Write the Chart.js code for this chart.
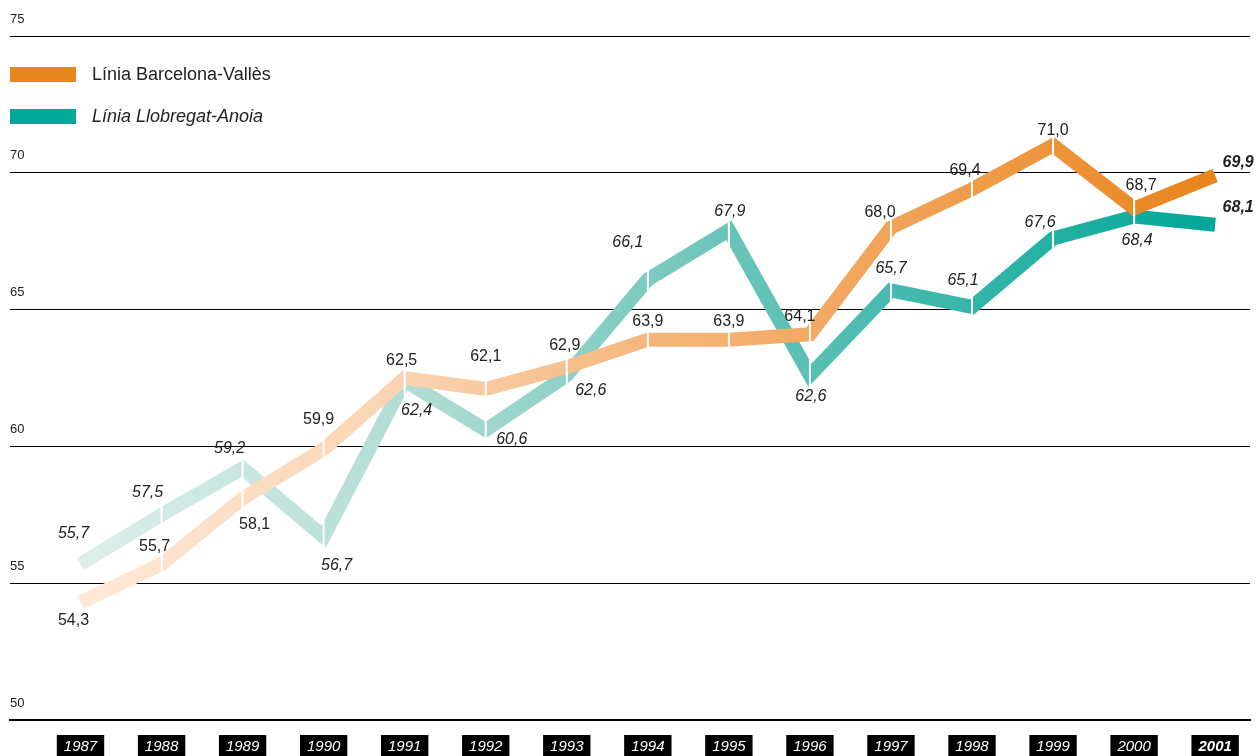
<!DOCTYPE html>
<html>
<head>
<meta charset="utf-8">
<script src="https://cdn.jsdelivr.net/npm/chart.js@4.4.1/dist/chart.umd.min.js"></script>
<style>
  body { margin: 0; background: #fff; }
  #wrap { width: 1256px; height: 756px; }
</style>
</head>
<body>
<div id="wrap"><canvas id="lines" width="1256" height="756"></canvas></div>
<script>
// data
const years = [1987, 1988, 1989, 1990, 1991, 1992, 1993, 1994, 1995, 1996, 1997, 1998, 1999, 2000, 2001];
const vallesValues = [54.3, 55.7, 58.1, 59.9, 62.5, 62.1, 62.9, 63.9, 63.9, 64.1, 68.0, 69.4, 71.0, 68.7, 69.9];
const anoiaValues = [55.7, 57.5, 59.2, 56.7, 62.4, 60.6, 62.6, 66.1, 67.9, 62.6, 65.7, 65.1, 67.6, 68.4, 68.1];
const yTicks = [50, 55, 60, 65, 70, 75];
const seriesNames = ['Línia Barcelona-Vallès', 'Línia Llobregat-Anoia'];

// where each value label sits relative to its point
const vallesLabelOff = [[-7, 18], [-7, -17], [12, 26], [-5, -30], [-3, -17], [0, -32], [-2, -21], [0, -18], [0, -18],
  [-10, -18], [-11, -15], [-7, -19], [0, -15], [7, -23], [23, -13]];
const anoiaLabelOff = [[-7, -31], [-14, -22], [-13, -20], [13, 29], [12, 30], [26, 10], [24, 15], [-20, -37], [1, -19],
  [1, 21], [0, -22], [-9, -26], [-13, -16], [3, 24], [23, -17]];

const FONT = "'Liberation Sans', Arial, sans-serif";
const LINE_W = 14;

const orangeStops = [[0, '#fee9d8'], [0.3, '#fad2ae'], [0.5, '#f5b67c'], [0.75, '#f0a052'], [1, '#e8841a']];
const tealStops = [[0, '#ddefeb'], [0.3, '#b0dcd3'], [0.55, '#70c6ba'], [0.75, '#3db8ab'], [1, '#00a79a']];

const gradCache = {};
function grad(chart, key, stops) {
  const xs = chart.scales.x;
  if (!xs || !chart.chartArea) return stops[stops.length - 1][1];
  const x0 = xs.getPixelForValue(years[0]);
  const x1 = xs.getPixelForValue(years[years.length - 1]);
  const id = key + x0 + '_' + x1;
  if (!gradCache[id]) {
    const g = chart.ctx.createLinearGradient(x0, 0, x1, 0);
    stops.forEach(s => g.addColorStop(s[0], s[1]));
    gradCache[id] = g;
  }
  return gradCache[id];
}

function fmt(v) {
  return v.toFixed(1).replace('.', ',');
}

const labelOffsets = [vallesLabelOff, anoiaLabelOff];

const decorPlugin = {
  id: 'decor',
  afterDatasetsDraw(chart) {
    const ctx = chart.ctx;
    ctx.save();
    // white cuts at every joint
    chart.data.datasets.forEach((ds, di) => {
      const pts = chart.getDatasetMeta(di).data;
      for (let i = 1; i < pts.length - 1; i++) {
        const p = pts[i];
        let half = 0;
        [pts[i - 1], pts[i + 1]].forEach(q => {
          const s = (q.y - p.y) / (q.x - p.x);
          half = Math.max(half, (LINE_W / 2) * Math.sqrt(1 + s * s));
        });
        ctx.strokeStyle = '#fff';
        ctx.lineWidth = 2;
        ctx.beginPath();
        ctx.moveTo(p.x, p.y - half - 1);
        ctx.lineTo(p.x, p.y + half + 1);
        ctx.stroke();
      }
    });
    // value labels
    ctx.fillStyle = '#222';
    ctx.textAlign = 'center';
    ctx.textBaseline = 'middle';
    chart.data.datasets.forEach((ds, di) => {
      const pts = chart.getDatasetMeta(di).data;
      pts.forEach((p, i) => {
        const last = i === pts.length - 1;
        const style = (di === 1 || last) ? 'italic ' : '';
        const weight = last ? 'bold ' : '';
        ctx.font = style + weight + '16px ' + FONT;
        const off = labelOffsets[di][i];
        ctx.fillText(fmt(ds.data[i].y), p.x + off[0], p.y + off[1]);
      });
    });
    ctx.restore();
  },
  afterDraw(chart) {
    const ctx = chart.ctx;
    ctx.save();
    ctx.fillStyle = '#e8851b';
    ctx.fillRect(10, 67, 66, 15);
    ctx.fillStyle = '#00a89c';
    ctx.fillRect(10, 109, 66, 15);
    ctx.fillStyle = '#222';
    ctx.textAlign = 'left';
    ctx.textBaseline = 'middle';
    ctx.font = '18px ' + FONT;
    ctx.fillText(seriesNames[0], 92, 75);
    ctx.font = 'italic 18px ' + FONT;
    ctx.fillText(seriesNames[1], 92, 117);
    ctx.restore();
  }
};

const chart = new Chart(document.getElementById('lines'), {
  type: 'line',
  data: {
    datasets: [
      {
        label: seriesNames[0],
        data: years.map((y, i) => ({ x: y, y: vallesValues[i] })),
        borderColor: c => grad(c.chart, 'o', orangeStops),
        borderWidth: LINE_W,
        borderCapStyle: 'butt',
        borderJoinStyle: 'miter',
        pointRadius: 0,
        tension: 0,
        clip: false
      },
      {
        label: seriesNames[1],
        data: years.map((y, i) => ({ x: y, y: anoiaValues[i] })),
        borderColor: c => grad(c.chart, 't', tealStops),
        borderWidth: LINE_W,
        borderCapStyle: 'butt',
        borderJoinStyle: 'miter',
        pointRadius: 0,
        tension: 0,
        clip: false
      }
    ]
  },
  options: {
    responsive: false,
    devicePixelRatio: 1,
    animation: false,
    layout: { padding: { left: 10, right: 6, top: 36, bottom: 0 } },
    plugins: {
      legend: { display: false },
      tooltip: { enabled: false }
    },
    scales: {
      x: {
        type: 'linear',
        min: 1986.13,
        max: 2001.43,
        afterBuildTicks: s => { s.ticks = years.map(v => ({ value: v })); },
        afterFit: s => { s.height = 36; },
        grid: { display: false, drawTicks: false },
        border: { display: true, color: '#000', width: 2 },
        ticks: {
          autoSkip: false,
          maxRotation: 0,
          padding: 18,
          color: '#fff',
          showLabelBackdrop: true,
          backdropColor: '#000',
          backdropPadding: { left: 7, right: 7, top: 3, bottom: 2 },
          font: c => ({
            family: FONT,
            size: 15,
            style: 'italic',
            weight: (c.tick && c.tick.value === 2001) ? 'bold' : 'normal'
          }),
          callback: v => String(v)
        }
      },
      y: {
        min: 50,
        max: 75,
        afterBuildTicks: s => { s.ticks = yTicks.map(v => ({ value: v })); },
        afterFit: s => { s.width = 0; },
        grid: { color: '#000', lineWidth: 1, drawTicks: false },
        border: { display: false },
        ticks: {
          mirror: true,
          padding: 0,
          labelOffset: -17,
          color: '#222',
          font: { family: FONT, size: 13 }
        }
      }
    }
  },
  plugins: [decorPlugin]
});
</script>
</body>
</html>
